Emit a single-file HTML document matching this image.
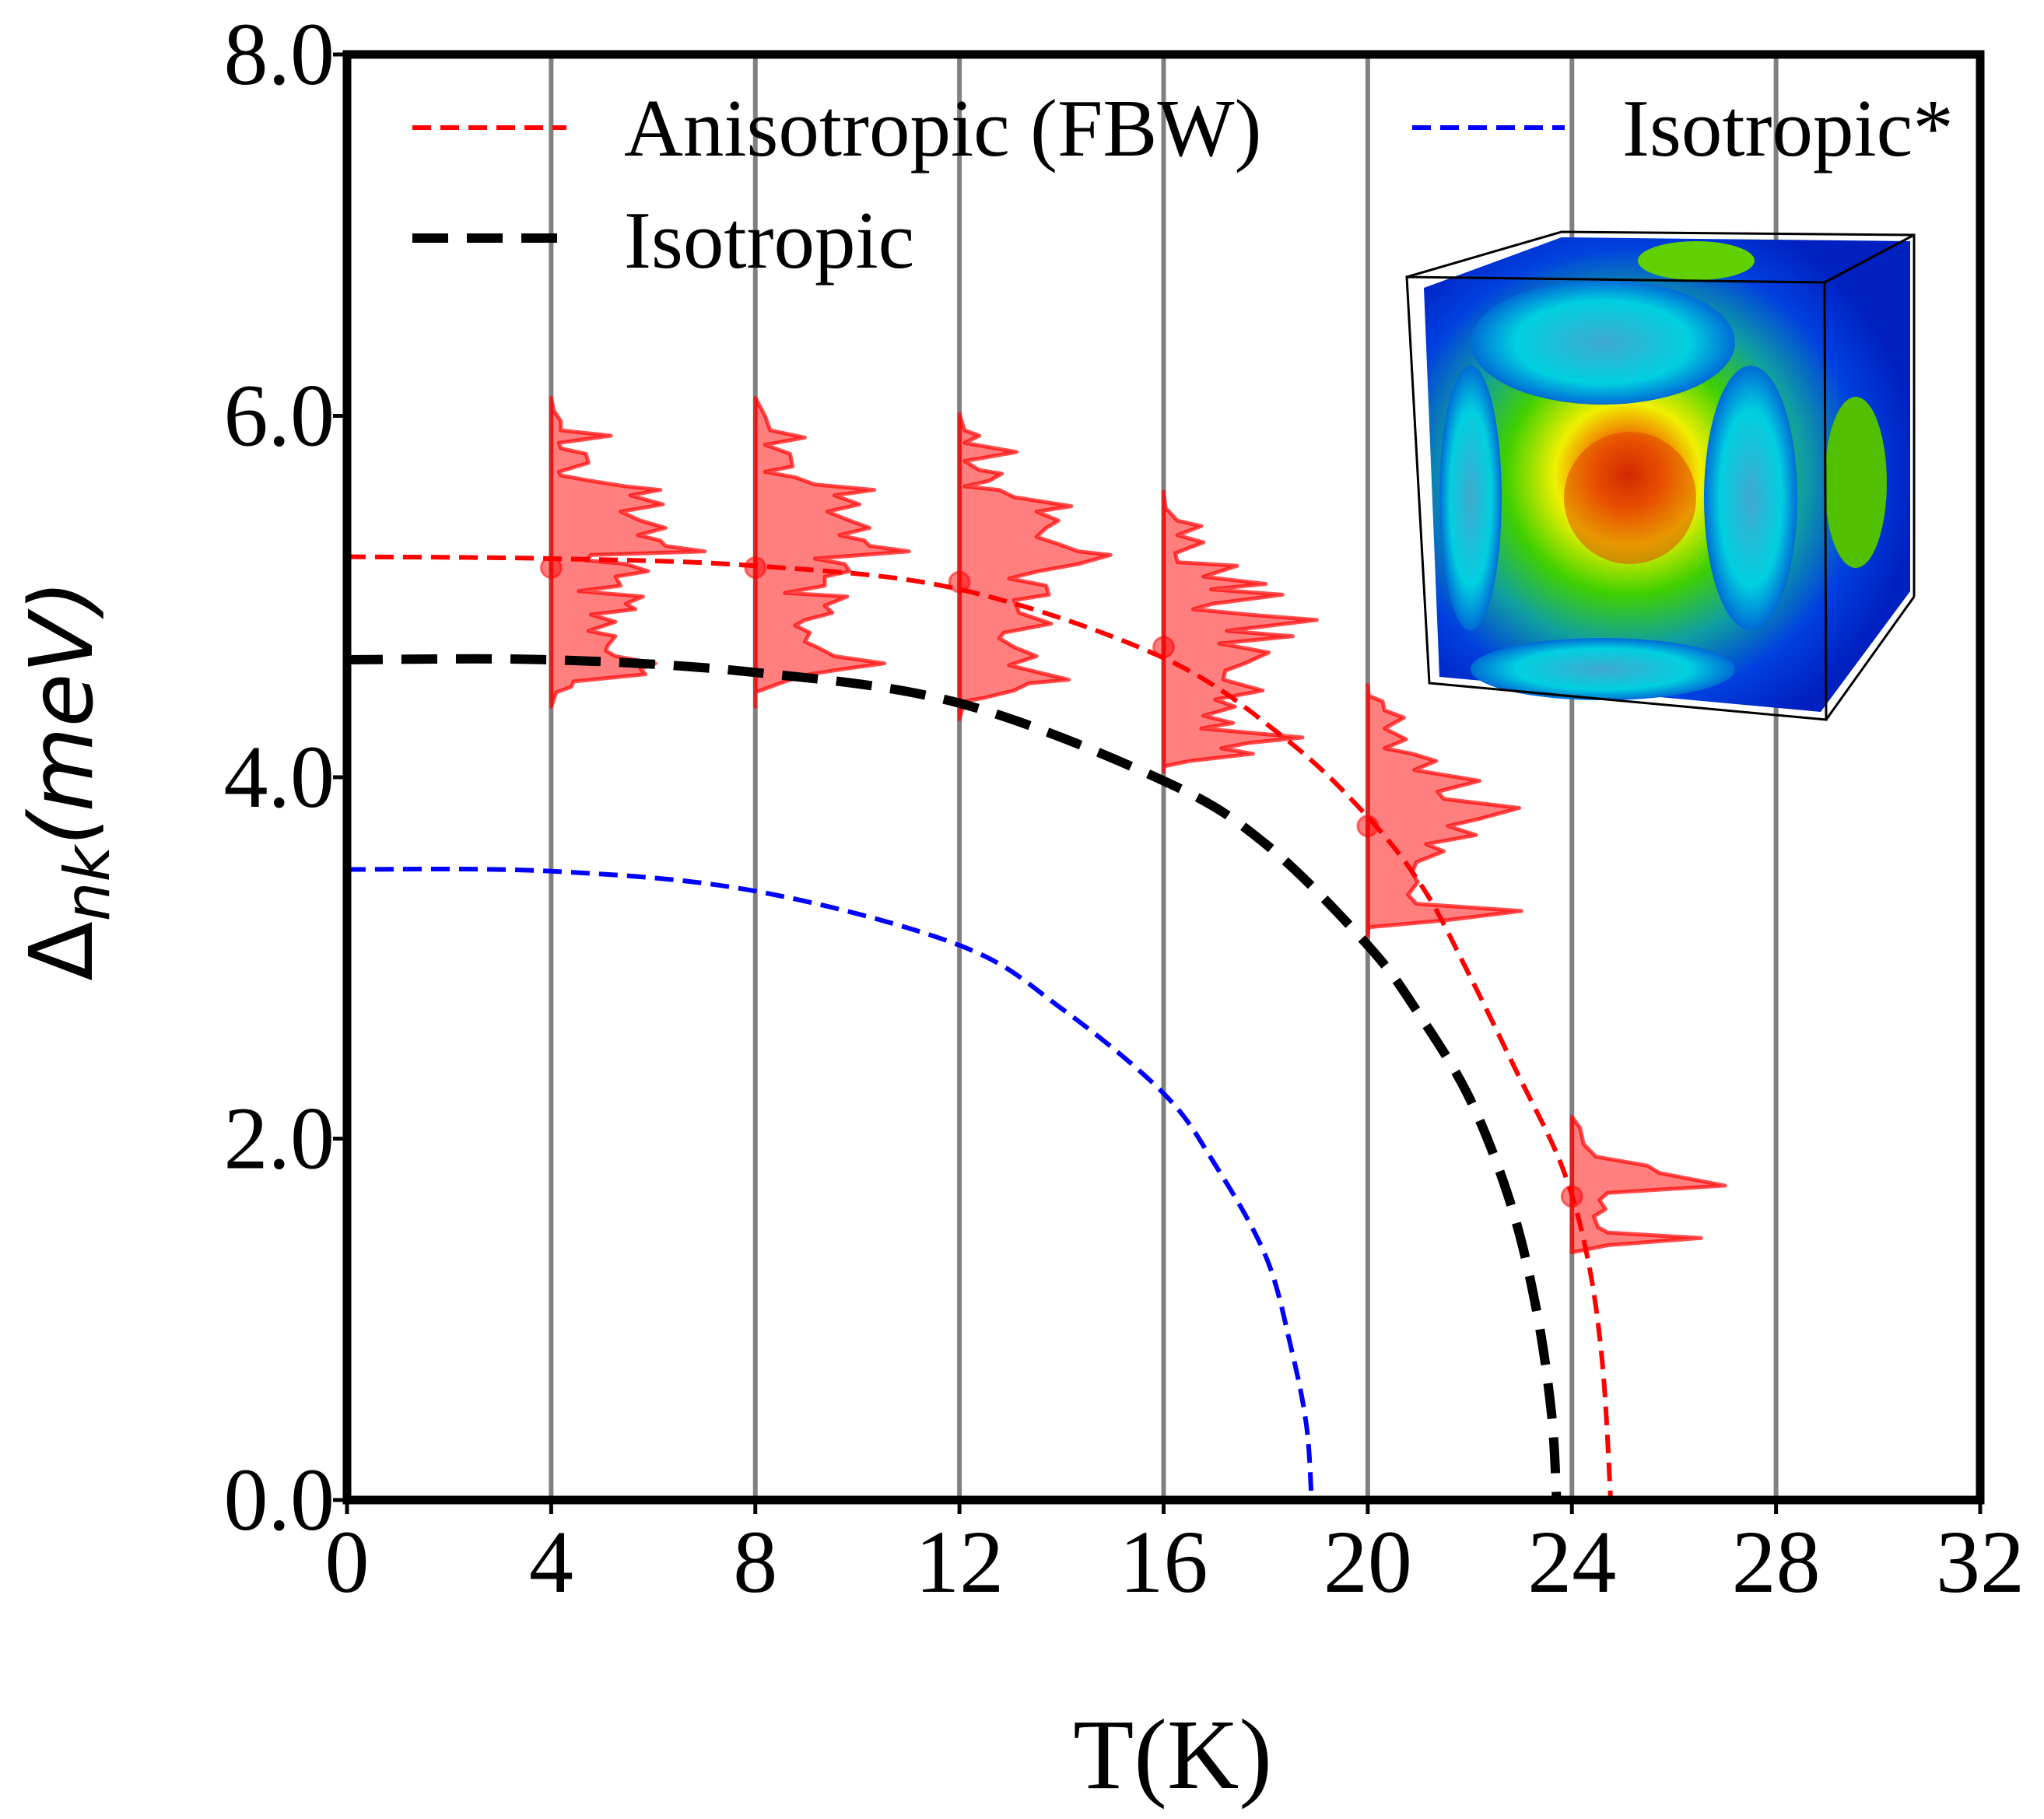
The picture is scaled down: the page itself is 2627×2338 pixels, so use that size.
<!DOCTYPE html>
<html><head><meta charset="utf-8">
<style>
html,body{margin:0;padding:0;background:#fff;}
svg{display:block;}
text{font-family:"Liberation Serif",serif;}
</style></head>
<body>
<svg id="chart" width="2627" height="2338" viewBox="0 0 2627 2338" xmlns="http://www.w3.org/2000/svg">
<defs>
  <radialGradient id="fsGrad" cx="0.42" cy="0.5" r="0.6">
    <stop offset="0" stop-color="#c81000"/>
    <stop offset="0.12" stop-color="#f06000"/>
    <stop offset="0.25" stop-color="#f0f000"/>
    <stop offset="0.42" stop-color="#40d000"/>
    <stop offset="0.6" stop-color="#10a0a0"/>
    <stop offset="0.8" stop-color="#0040e0"/>
    <stop offset="1" stop-color="#0020c0"/>
  </radialGradient>
  <radialGradient id="lensGrad" cx="0.5" cy="0.5" r="0.6">
    <stop offset="0" stop-color="#40a8d0"/>
    <stop offset="0.55" stop-color="#00d0e0"/>
    <stop offset="1" stop-color="#0030d0"/>
  </radialGradient>
  <clipPath id="plotClip"><rect x="446" y="70" width="2099" height="1858"/></clipPath>
</defs>
<g id="grid"></g>
<g id="inset">
  <polygon points="1830,370 2007,305 2455,310 2455,760 2340,915 1850,870" fill="url(#fsGrad)"/>
  <ellipse cx="2060" cy="440" rx="170" ry="80" fill="url(#lensGrad)"/>
  <ellipse cx="2250" cy="640" rx="60" ry="170" fill="url(#lensGrad)"/>
  <ellipse cx="1890" cy="640" rx="40" ry="170" fill="url(#lensGrad)"/>
  <ellipse cx="2060" cy="860" rx="170" ry="40" fill="url(#lensGrad)"/>
  <ellipse cx="2180" cy="335" rx="75" ry="25" fill="#60d000"/>
  <ellipse cx="2385" cy="620" rx="40" ry="110" fill="#50c000"/>
  <ellipse cx="2095" cy="640" rx="85" ry="85" fill="#e04000" opacity="0.5"/>
  <path d="M1808,356 L2345,363 L2347,925 L1837,878 Z M2345,363 L2460,302 M2347,925 L2460,767 M1808,356 L2007,298 L2460,302 L2460,767" fill="none" stroke="#000" stroke-width="3"/>
</g>
<g id="hists"></g>
<g id="curves" clip-path="url(#plotClip)"></g>
<g id="dots"></g>
<g id="axes"></g>
<g id="legend">
  <line x1="530" y1="164" x2="728" y2="164" stroke="#ff0000" stroke-width="6" stroke-dasharray="24,12"/>
  <text x="802" y="200" font-size="105">Anisotropic (FBW)</text>
  <line x1="530" y1="306" x2="728" y2="306" stroke="#000" stroke-width="12" stroke-dasharray="46,24"/>
  <text x="802" y="344" font-size="105">Isotropic</text>
  <line x1="1815" y1="164" x2="2011" y2="164" stroke="#0000ff" stroke-width="6" stroke-dasharray="24,12"/>
  <text x="2085" y="200" font-size="105">Isotropic*</text>
</g>
<text x="1507" y="2298" font-size="128" text-anchor="middle">T(K)</text>
<text transform="translate(118,1003) rotate(-90)" text-anchor="middle" font-size="112" style="font-family:'DejaVu Sans',sans-serif">Δ<tspan font-size="80" dy="22" font-style="italic">nk</tspan><tspan dy="-22" font-style="italic">(meV)</tspan></text>
</svg>
<script>
// ---- data ----
const xTicks = [0,4,8,12,16,20,24,28,32];
const yTicks = [0,2,4,6,8];
const yTickLabels = ["0.0","2.0","4.0","6.0","8.0"];
const gridT = [4,8,12,16,20,24,28];

const anisoT = [0,4,8,12,16,18.4,20,21.1,22,22.9,23.8,24.3,24.6,24.76];
const anisoD = [5.22,5.21,5.17,5.04,4.66,4.21,3.78,3.38,2.9,2.38,1.85,1.35,0.75,0];
const isoT = [0,4,8,12,16,18,20,21,22,22.8,23.3,23.6,23.7];
const isoD = [4.65,4.65,4.58,4.41,3.98,3.63,3.07,2.69,2.22,1.64,1.06,0.48,0];
const isoStarT = [0,4,8,12,14,16,17,18,18.5,18.8,18.9];
const isoStarD = [3.49,3.48,3.37,3.07,2.72,2.25,1.86,1.35,0.84,0.41,0];

const pointT = [4,8,12,16,20,24];
const pointD = [5.16,5.16,5.08,4.72,3.73,1.68];

const h4D = [6.10,6.03,5.97,5.92,5.89,5.85,5.82,5.79,5.74,5.69,5.67,5.64,5.61,5.59,5.56,5.51,5.47,5.42,5.38,5.34,5.31,5.28,5.25,5.23,5.20,5.18,5.14,5.11,5.06,5.03,5.00,4.96,4.93,4.90,4.86,4.81,4.78,4.73,4.70,4.67,4.63,4.60,4.57,4.53,4.50,4.47,4.39];
const h4W = [0,.05,.19,.19,1.17,.15,.19,.68,.73,.15,.19,.78,1.46,2.14,1.55,2.19,1.36,1.75,2.24,1.70,2.14,2.24,3.01,.78,.68,1.46,1.90,1.26,1.36,.54,1.80,1.46,1.65,.78,1.26,.73,1.26,1.11,1.07,1.26,2.04,1.75,1.85,.44,.39,.10,0];
const h8D = [6.10,6.00,5.92,5.88,5.84,5.79,5.72,5.69,5.66,5.62,5.59,5.56,5.51,5.47,5.42,5.38,5.34,5.31,5.28,5.25,5.21,5.18,5.14,5.11,5.06,5.02,5.00,4.95,4.91,4.87,4.84,4.80,4.75,4.72,4.67,4.63,4.60,4.57,4.53,4.50,4.47,4.39];
const h8W = [0,.19,.29,.97,.19,.68,.73,.19,.78,1.17,2.33,1.55,2.04,1.41,1.85,2.24,1.65,2.14,2.24,3.01,1.17,1.75,1.85,1.36,1.36,.58,1.80,1.36,1.51,.97,.78,1.07,.97,1.21,1.55,2.53,1.75,1.07,.58,.29,0,0];
const h12D = [6.01,5.92,5.89,5.85,5.80,5.75,5.70,5.68,5.64,5.61,5.59,5.55,5.50,5.47,5.42,5.38,5.33,5.29,5.25,5.23,5.18,5.14,5.10,5.06,5.01,4.98,4.91,4.85,4.80,4.77,4.72,4.67,4.62,4.58,4.54,4.52,4.48,4.44,4.42,4.32];
const h12W = [0,.10,.39,.10,1.12,.10,.39,.83,.58,.10,.78,1.07,2.19,1.51,1.94,1.70,1.51,1.94,2.33,2.96,2.33,1.55,.97,1.70,1.75,1.07,1.17,1.80,.87,.78,1.07,1.51,.97,1.55,2.14,1.36,1.07,.49,.10,0];
const h16D = [5.58,5.49,5.42,5.39,5.34,5.30,5.24,5.19,5.17,5.11,5.07,5.04,5.01,4.96,4.93,4.90,4.87,4.81,4.78,4.74,4.69,4.63,4.59,4.54,4.48,4.43,4.39,4.34,4.30,4.27,4.22,4.19,4.16,4.13,4.09,4.06,4.03];
const h16W = [0,.04,.27,.74,.27,.78,.23,.27,1.44,.78,2.00,.93,2.33,.97,.58,1.67,3.00,1.24,2.53,1.09,2.06,1.59,1.21,1.17,1.94,1.01,1.40,.78,1.36,.74,2.72,1.67,1.13,1.75,.51,0,0];
const h20D = [4.51,4.45,4.42,4.37,4.33,4.27,4.21,4.16,4.13,4.09,4.04,3.98,3.92,3.88,3.83,3.77,3.73,3.68,3.63,3.59,3.53,3.47,3.42,3.35,3.30,3.26,3.21,3.17,3.12];
const h20W = [0,.02,.29,.33,.71,.33,.75,.33,.87,1.34,.91,2.19,1.37,1.49,2.97,2.19,1.57,2.12,1.14,1.49,.95,.87,.98,.79,.95,3.01,1.57,.02,0];
const h24D = [2.12,2.06,1.97,1.90,1.85,1.81,1.78,1.74,1.70,1.66,1.61,1.57,1.51,1.48,1.45,1.41,1.37];
const h24W = [0,.16,.23,.47,1.48,1.71,2.26,3.00,.70,.54,.66,.43,.51,.70,2.53,.70,0];

// ---- scales ----
const X0 = 446, X1 = 2545, Y0 = 1928, Y1 = 70;
const xS = t => X0 + (t - 0) / 32 * (X1 - X0);
const yS = d => Y0 - d / 8 * (Y0 - Y1);
const NS = "http://www.w3.org/2000/svg";
function mk(tag, attrs, parent) {
  const e = document.createElementNS(NS, tag);
  for (const k in attrs) e.setAttribute(k, attrs[k]);
  parent.appendChild(e);
  return e;
}

// grid
const grid = document.getElementById('grid');
gridT.forEach(t => {
  const l = mk('line', {x1: xS(t), x2: xS(t), y1: Y1, y2: Y0, stroke: '#808080', 'stroke-width': 6}, grid);
  
  
});

// histograms
const hists = document.getElementById('hists');
const histSets = [[4,h4D,h4W],[8,h8D,h8W],[12,h12D,h12W],[16,h16D,h16W],[20,h20D,h20W],[24,h24D,h24W]];
const kw = (X1 - X0) / 32;
histSets.forEach(([t, D, W]) => {
  let d = 'M' + xS(t) + ',' + yS(D[0]);
  for (let i = 0; i < D.length; i++) d += ' L' + (xS(t) + W[i] * kw).toFixed(1) + ',' + yS(D[i]).toFixed(1);
  d += ' L' + xS(t) + ',' + yS(D[D.length - 1]) + ' Z';
  const p = mk('path', {d: d, fill: 'rgba(255,0,0,0.5)', stroke: 'rgba(255,0,0,0.7)', 'stroke-width': 5, 'stroke-linejoin': 'round'}, hists);
  
  
});

// curves (Catmull-Rom)
function curvePath(T, D) {
  const P = T.map((t, i) => [xS(t), yS(D[i])]);
  let d = 'M' + P[0][0] + ',' + P[0][1];
  for (let i = 0; i < P.length - 1; i++) {
    const p0 = P[Math.max(0, i - 1)], p1 = P[i], p2 = P[i + 1], p3 = P[Math.min(P.length - 1, i + 2)];
    const c1 = [p1[0] + (p2[0] - p0[0]) / 6, p1[1] + (p2[1] - p0[1]) / 6];
    const c2 = [p2[0] - (p3[0] - p1[0]) / 6, p2[1] - (p3[1] - p1[1]) / 6];
    d += ' C' + c1[0].toFixed(1) + ',' + c1[1].toFixed(1) + ' ' + c2[0].toFixed(1) + ',' + c2[1].toFixed(1) + ' ' + p2[0].toFixed(1) + ',' + p2[1].toFixed(1);
  }
  return d;
}
const curves = document.getElementById('curves');
const c1 = mk('path', {d: curvePath(isoStarT, isoStarD), fill: 'none', stroke: '#0000ff', 'stroke-width': 6, 'stroke-dasharray': '24,12'}, curves);


const c2 = mk('path', {d: curvePath(isoT, isoD), fill: 'none', stroke: '#000', 'stroke-width': 12, 'stroke-dasharray': '46,24'}, curves);


const c3 = mk('path', {d: curvePath(anisoT, anisoD), fill: 'none', stroke: '#ff0000', 'stroke-width': 6, 'stroke-dasharray': '24,12'}, curves);



// dots
const dots = document.getElementById('dots');
pointT.forEach((t, i) => {
  const c = mk('ellipse', {cx: xS(t), cy: yS(pointD[i]), rx: 13, ry: 13, fill: 'rgba(255,0,0,0.5)', stroke: 'rgba(255,0,0,0.5)', 'stroke-width': 3}, dots);
  
  
});

// axes
const axes = document.getElementById('axes');
const frame = mk('rect', {x: X0, y: Y1, width: X1 - X0, height: Y0 - Y1, fill: 'none', stroke: '#000', 'stroke-width': 11}, axes);


xTicks.forEach(t => {
  const l = mk('line', {x1: xS(t), x2: xS(t), y1: Y0, y2: Y0 + 18, stroke: '#000', 'stroke-width': 5}, axes);
  
  
  const tx = mk('text', {x: xS(t), y: Y0 + 118, 'font-size': 114, 'text-anchor': 'middle'}, axes);
  tx.textContent = String(t);
  
  
});
yTicks.forEach((v, i) => {
  const l = mk('line', {x1: X0 - 18, x2: X0, y1: yS(v), y2: yS(v), stroke: '#000', 'stroke-width': 5}, axes);
  
  
  const tx = mk('text', {x: X0 - 16, y: yS(v) + 38, 'font-size': 114, 'text-anchor': 'end'}, axes);
  tx.textContent = yTickLabels[i];
  
  
});
</script>
</body></html>
